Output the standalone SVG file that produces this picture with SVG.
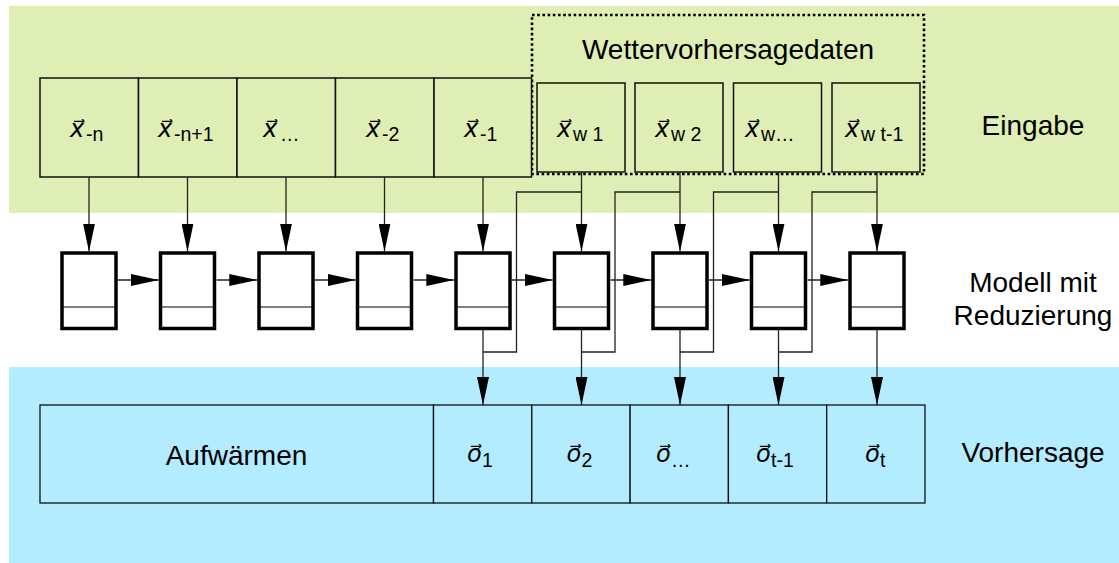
<svg xmlns="http://www.w3.org/2000/svg" width="1119" height="563" viewBox="0 0 1119 563">
<style>
.lbl{font-family:"Liberation Sans",Arial,sans-serif;font-size:28px;fill:#000}
.mid{text-anchor:middle}
.mi{font-family:"DejaVu Sans",sans-serif;font-style:italic;font-size:24px}
.sub{font-family:"Liberation Sans",Arial,sans-serif;font-size:19.5px;font-style:normal}
.inbox{fill:#dfeeb4;stroke:#111;stroke-width:1.5}
.outbox{fill:#b3ebff;stroke:#111;stroke-width:1.3}
.cell{fill:#fff;stroke:#000;stroke-width:3.5}
.div{stroke:#000;stroke-width:1.2}
.con{fill:none;stroke:#222;stroke-width:1.3}
.arr{marker-end:url(#ah)}
</style>
<defs>
<marker id="ah" markerUnits="userSpaceOnUse" markerWidth="28" markerHeight="12" refX="28" refY="6" orient="auto">
<path d="M0,0 L28,6 L0,12 z" fill="#000"/>
</marker>
</defs>
<!-- bands -->
<rect x="9" y="6" width="1110" height="207" fill="#dfeeb4"/>
<rect x="9" y="367" width="1110" height="196" fill="#b3ebff"/>

<g id="band-labels">
<text class="lbl mid" x="1033" y="135">Eingabe</text>
<text class="lbl mid" x="1033" y="292">Modell mit</text>
<text class="lbl mid" x="1033" y="325">Reduzierung</text>
<text class="lbl mid" x="1033" y="462">Vorhersage</text>
</g>

<g id="wetter-frame">
<rect x="532" y="15" width="392" height="159" fill="none" stroke="#000" stroke-width="2.6" stroke-dasharray="2.6 2.6"/>
<text class="lbl mid" x="728" y="59">Wettervorhersagedaten</text>
</g>

<g id="in0"><rect class="inbox" x="40" y="78" width="98.5" height="99"/>
<text class="mi"><tspan x="70" y="137">x&#x20D7;</tspan><tspan class="sub" x="86" y="141">-n</tspan></text></g>
<g id="in1"><rect class="inbox" x="138.5" y="78" width="98.5" height="99"/>
<text class="mi"><tspan x="158" y="137">x&#x20D7;</tspan><tspan class="sub" x="174" y="141">-n+1</tspan></text></g>
<g id="in2"><rect class="inbox" x="237" y="78" width="98.5" height="99"/>
<text class="mi"><tspan x="263" y="137">x&#x20D7;</tspan><tspan class="sub" x="280" y="141">…</tspan></text></g>
<g id="in3"><rect class="inbox" x="335.5" y="78" width="98.5" height="99"/>
<text class="mi"><tspan x="366" y="137">x&#x20D7;</tspan><tspan class="sub" x="382" y="141">-2</tspan></text></g>
<g id="in4"><rect class="inbox" x="434" y="78" width="97.5" height="99"/>
<text class="mi"><tspan x="464" y="137">x&#x20D7;</tspan><tspan class="sub" x="480" y="141">-1</tspan></text></g>
<g id="in5"><rect class="inbox" x="537" y="83" width="88" height="89"/>
<text class="mi"><tspan x="557" y="137">x&#x20D7;</tspan><tspan class="sub" x="573" y="141">w 1</tspan></text></g>
<g id="in6"><rect class="inbox" x="635" y="83" width="88" height="89"/>
<text class="mi"><tspan x="655" y="137">x&#x20D7;</tspan><tspan class="sub" x="671" y="141">w 2</tspan></text></g>
<g id="in7"><rect class="inbox" x="733.5" y="83" width="88" height="89"/>
<text class="mi"><tspan x="745" y="137">x&#x20D7;</tspan><tspan class="sub" x="761" y="141">w…</tspan></text></g>
<g id="in8"><rect class="inbox" x="832" y="83" width="88" height="89"/>
<text class="mi"><tspan x="845" y="137">x&#x20D7;</tspan><tspan class="sub" x="861" y="141">w t-1</tspan></text></g>

<g id="cells">
<g id="cell0"><rect class="cell" x="62" y="253" width="54" height="75.5"/><line class="div" x1="62" y1="307" x2="116" y2="307"/></g>
<g id="cell1"><rect class="cell" x="160.5" y="253" width="54" height="75.5"/><line class="div" x1="160.5" y1="307" x2="214.5" y2="307"/></g>
<g id="cell2"><rect class="cell" x="259" y="253" width="54" height="75.5"/><line class="div" x1="259" y1="307" x2="313" y2="307"/></g>
<g id="cell3"><rect class="cell" x="357.5" y="253" width="54" height="75.5"/><line class="div" x1="357.5" y1="307" x2="411.5" y2="307"/></g>
<g id="cell4"><rect class="cell" x="456" y="253" width="54" height="75.5"/><line class="div" x1="456" y1="307" x2="510" y2="307"/></g>
<g id="cell5"><rect class="cell" x="554.5" y="253" width="54" height="75.5"/><line class="div" x1="554.5" y1="307" x2="608.5" y2="307"/></g>
<g id="cell6"><rect class="cell" x="653" y="253" width="54" height="75.5"/><line class="div" x1="653" y1="307" x2="707" y2="307"/></g>
<g id="cell7"><rect class="cell" x="751.5" y="253" width="54" height="75.5"/><line class="div" x1="751.5" y1="307" x2="805.5" y2="307"/></g>
<g id="cell8"><rect class="cell" x="850" y="253" width="54" height="75.5"/><line class="div" x1="850" y1="307" x2="904" y2="307"/></g>
</g>

<g id="out-warm"><rect class="outbox" x="40" y="405" width="393.5" height="98"/>
<text class="lbl mid" x="236.5" y="465">Aufwärmen</text></g>
<g id="out1"><rect class="outbox" x="433.5" y="405" width="98.3" height="98"/>
<text class="mi"><tspan x="467" y="462">o&#x20D7;</tspan><tspan class="sub" x="482" y="467">1</tspan></text></g>
<g id="out2"><rect class="outbox" x="531.8" y="405" width="98.3" height="98"/>
<text class="mi"><tspan x="566.5" y="462">o&#x20D7;</tspan><tspan class="sub" x="581.5" y="467">2</tspan></text></g>
<g id="out3"><rect class="outbox" x="630.1" y="405" width="98.3" height="98"/>
<text class="mi"><tspan x="656" y="462">o&#x20D7;</tspan><tspan class="sub" x="671" y="467">…</tspan></text></g>
<g id="out4"><rect class="outbox" x="728.4" y="405" width="98.3" height="98"/>
<text class="mi"><tspan x="756" y="462">o&#x20D7;</tspan><tspan class="sub" x="771" y="467">t-1</tspan></text></g>
<g id="out5"><rect class="outbox" x="826.7" y="405" width="98.3" height="98"/>
<text class="mi"><tspan x="865" y="462">o&#x20D7;</tspan><tspan class="sub" x="880" y="467">t</tspan></text></g>

<g id="connectors">
<line class="con arr" x1="89" y1="177" x2="89" y2="251.5"/>
<line class="con arr" x1="187.5" y1="177" x2="187.5" y2="251.5"/>
<line class="con arr" x1="286" y1="177" x2="286" y2="251.5"/>
<line class="con arr" x1="384.5" y1="177" x2="384.5" y2="251.5"/>
<line class="con arr" x1="483" y1="177" x2="483" y2="251.5"/>
<line class="con arr" x1="581.5" y1="172" x2="581.5" y2="251.5"/>
<line class="con arr" x1="680" y1="172" x2="680" y2="251.5"/>
<line class="con arr" x1="778.5" y1="172" x2="778.5" y2="251.5"/>
<line class="con arr" x1="877" y1="172" x2="877" y2="251.5"/>

<line class="con arr" x1="118" y1="280" x2="158.8" y2="280"/>
<line class="con arr" x1="216.5" y1="280" x2="257.3" y2="280"/>
<line class="con arr" x1="315" y1="280" x2="355.8" y2="280"/>
<line class="con arr" x1="413.5" y1="280" x2="454.3" y2="280"/>
<line class="con arr" x1="512" y1="280" x2="552.8" y2="280"/>
<line class="con arr" x1="610.5" y1="280" x2="651.3" y2="280"/>
<line class="con arr" x1="709" y1="280" x2="749.8" y2="280"/>
<line class="con arr" x1="807.5" y1="280" x2="848.3" y2="280"/>

<path class="con" d="M483,352 H516.5 V192 H581.5"/>
<path class="con" d="M581.5,352 H615 V192 H680"/>
<path class="con" d="M680,352 H713.5 V192 H778.5"/>
<path class="con" d="M778.5,352 H812 V192 H877"/>

<line class="con arr" x1="483" y1="330" x2="483" y2="405"/>
<line class="con arr" x1="581.5" y1="330" x2="581.5" y2="405"/>
<line class="con arr" x1="680" y1="330" x2="680" y2="405"/>
<line class="con arr" x1="778.5" y1="330" x2="778.5" y2="405"/>
<line class="con arr" x1="877" y1="330" x2="877" y2="405"/>
</g>
</svg>
